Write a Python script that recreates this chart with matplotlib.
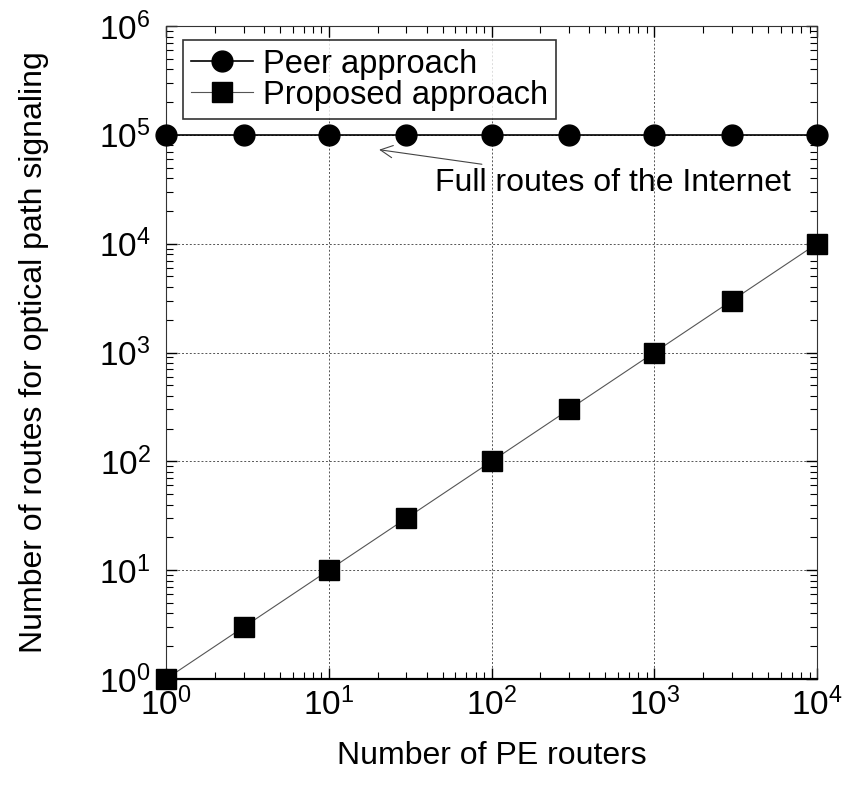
import matplotlib
matplotlib.use("Agg")
import matplotlib.pyplot as plt
from matplotlib.ticker import LogLocator, NullFormatter

plt.rcParams['font.family'] = ['Liberation Sans', 'DejaVu Sans']
plt.rcParams['mathtext.fontset'] = 'custom'
plt.rcParams['mathtext.rm'] = 'Liberation Sans'
plt.rcParams['mathtext.it'] = 'Liberation Sans'

pe_routers = [1, 3, 10, 30, 100, 300, 1000, 3000, 10000]
peer_routes = [1e5] * 9
proposed_routes = [1, 3, 10, 30, 100, 300, 1000, 3000, 10000]
x_ticks = [1, 10, 100, 1000, 10000]
x_tick_labels = ['$10^0$', '$10^1$', '$10^2$', '$10^3$', '$10^4$']
y_ticks = [1, 10, 100, 1000, 10000, 100000, 1000000]
y_tick_labels = ['$10^0$', '$10^1$', '$10^2$', '$10^3$', '$10^4$', '$10^5$', '$10^6$']

W, H = 842, 789
fig = plt.figure(figsize=(W/100, H/100), dpi=100)
L, R, T, B = 166, 817, 26, 679
ax = fig.add_axes([L/W, 1-B/H, (R-L)/W, (B-T)/H])

ax.plot(pe_routers, peer_routes, '-', color='black', lw=1.2, marker='o',
        ms=15, label='Peer approach', clip_on=False, zorder=5)
ax.plot(pe_routers, proposed_routes, '-', color='#555555', lw=0.8, marker='s',
        ms=15, mfc='black', mec='black', label='Proposed approach', clip_on=False, zorder=5)

ax.set_xscale('log')
ax.set_yscale('log')
ax.set_xlim(1, 1e4)
ax.set_ylim(1, 1e6)

ax.set_xticks(x_ticks)
ax.set_xticklabels(x_tick_labels)
ax.set_yticks(y_ticks)
ax.set_yticklabels(y_tick_labels)
ax.xaxis.set_minor_locator(LogLocator(base=10, subs=range(2, 10), numticks=20))
ax.yaxis.set_minor_locator(LogLocator(base=10, subs=range(2, 10), numticks=20))
ax.xaxis.set_minor_formatter(NullFormatter())
ax.yaxis.set_minor_formatter(NullFormatter())

ax.tick_params(which='both', direction='in', top=True, right=True, labelsize=24)
ax.tick_params(which='major', length=8, width=1)
ax.tick_params(which='minor', length=5, width=0.8)
ax.tick_params(axis='x', pad=6)
ax.tick_params(axis='y', pad=11)

ax.grid(True, which='major', linestyle=(0, (2, 2)), color='#555555', linewidth=0.7)

for k, s in ax.spines.items():
    s.set_linewidth(0.8)
    s.set_color('#333333')
ax.spines['bottom'].set_linewidth(1.6)
ax.spines['bottom'].set_color('black')

ax.set_xlabel('Number of PE routers', fontsize=23, labelpad=14)
ax.set_ylabel('Number of routes for optical path signaling', fontsize=23, labelpad=36)

leg = ax.legend(loc='upper left', bbox_to_anchor=(0.026, 0.978), fontsize=23.5,
                frameon=True, fancybox=False, edgecolor='black', borderpad=0.25,
                handlelength=1.9, handletextpad=0.3, labelspacing=0.0, borderaxespad=0)
leg.get_frame().set_linewidth(1.2)

ax.annotate('Full routes of the Internet', xy=(20.4, 7.3e4), xytext=(45, 3.06e4),
            fontsize=23, ha='left', va='baseline',
            arrowprops=dict(arrowstyle='->', color='#444444', lw=0.8,
                            mutation_scale=22, shrinkA=4, shrinkB=0))

fig.savefig('out.png', dpi=100)
